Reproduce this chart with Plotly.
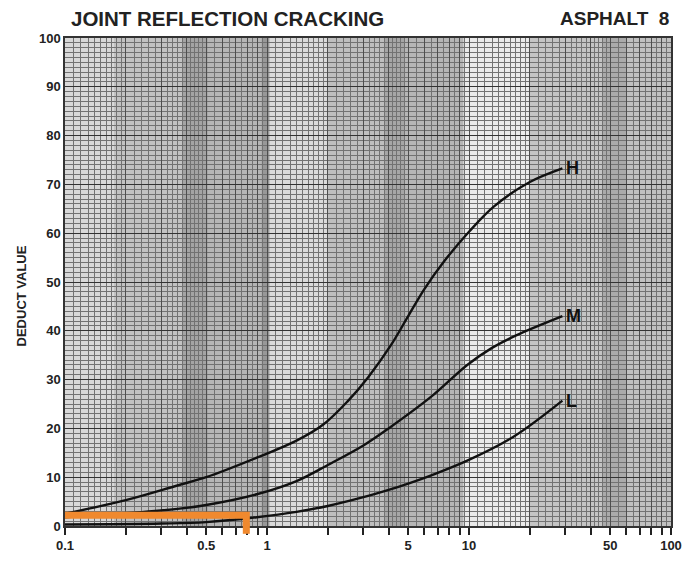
import math
import plotly.graph_objects as go

# ---- data ----
h_x = [0.1, 0.2, 0.36, 0.5, 0.89, 1.4, 1.9, 2.5, 3.17, 4.1, 5, 6, 7.55, 10, 13.3, 20, 29]
h_y = [2.5, 5.3, 8.3, 10, 14, 17.5, 20.8, 25.5, 30.5, 37, 43, 48.5, 54.3, 60.3, 65.5, 70.5, 73.3]

m_x = [0.1, 0.2, 0.36, 0.5, 0.89, 1.4, 2, 3, 4, 6.5, 9.8, 13, 17, 29]
m_y = [1.8, 2.6, 3.5, 4.3, 6.5, 9.2, 12.5, 16.5, 20, 26.5, 33, 36.5, 39, 43]

l_x = [0.1, 0.3, 0.5, 0.89, 1.4, 2, 3, 4, 5, 6.7, 9.8, 16.6, 29]
l_y = [0.3, 0.5, 0.8, 1.8, 2.9, 4.1, 5.9, 7.4, 8.7, 10.6, 13.4, 18.3, 25.7]

orange_x = [0.1, 0.79, 0.79]
orange_y = [2.2, 2.2, 0]

curve_names = ["H", "M", "L"]

x_tickvals = [0.1, 0.2, 0.3, 0.4, 0.5, 0.6, 0.7, 0.8, 0.9,
              1, 2, 3, 4, 5, 6, 7, 8, 9,
              10, 20, 30, 40, 50, 60, 70, 80, 90, 100]
x_labels = {0.1: "0.1", 0.5: "0.5", 1: "1", 5: "5", 10: "10", 50: "50", 100: "100"}
y_tickvals = [0, 10, 20, 30, 40, 50, 60, 70, 80, 90, 100]

# ---- styling helpers ----
minor_x = []
for base in [0.1, 1, 10]:
    for i in range(10, 20):
        minor_x.append(round(base * i / 10, 4))
    for i in range(20, 50, 2):
        minor_x.append(round(base * i / 10, 4))
    for i in range(50, 100, 5):
        minor_x.append(round(base * i / 10, 4))

# scan shading bands (x0, x1, colour)
bands = [
    (0.1, 0.175, "#d8d8d8"),
    (0.175, 0.38, "#c2c2c2"),
    (0.38, 0.51, "#a4a4a4"),
    (0.51, 0.94, "#b6b6b6"),
    (0.94, 1.03, "#989898"),
    (1.03, 2.0, "#dadada"),
    (2.0, 3.8, "#bebebe"),
    (3.8, 4.8, "#a6a6a6"),
    (4.8, 9.4, "#b6b6b6"),
    (9.4, 20, "#eaeaea"),
    (20, 46, "#c4c4c4"),
    (46, 60, "#aaaaaa"),
    (60, 100, "#c0c0c0"),
]

FONT = "Liberation Sans"
fig = go.Figure()

for x0, x1, c in bands:
    fig.add_shape(type="rect", xref="x", yref="paper", x0=x0, x1=x1, y0=0, y1=1,
                  fillcolor=c, line_width=0, layer="below")

for name, xs, ys in zip(curve_names, [h_x, m_x, l_x], [h_y, m_y, l_y]):
    fig.add_trace(go.Scatter(x=xs, y=ys, mode="lines", name=name,
                             line=dict(color="#111111", width=2.4, shape="spline", smoothing=1.0),
                             showlegend=False, hoverinfo="skip"))
    fig.add_annotation(x=math.log10(xs[-1]), y=ys[-1], xref="x", yref="y",
                       text="<b>%s</b>" % name,
                       showarrow=False, xanchor="left", xshift=2,
                       font=dict(family=FONT, size=18, color="#111111"))

fig.add_trace(go.Scatter(x=orange_x, y=orange_y, mode="lines",
                         line=dict(color="#f0892e", width=7),
                         showlegend=False, hoverinfo="skip"))
# small overshoot of the orange marker below the axis
fig.add_shape(type="line", xref="x", yref="paper",
              x0=orange_x[-1], x1=orange_x[-1], y0=0.005, y1=-0.016,
              line=dict(color="#f0892e", width=7), layer="above")

fig.update_xaxes(type="log", range=[-1, 2],
                 tickvals=x_tickvals,
                 ticktext=[x_labels.get(v, "") for v in x_tickvals],
                 ticks="outside", ticklen=7, tickwidth=1.5, tickcolor="#222",
                 showgrid=True, gridcolor="#4e4e4e", gridwidth=1.1,
                 minor=dict(tickvals=minor_x, showgrid=True, gridcolor="#727272",
                            gridwidth=1, ticks=""),
                 showline=True, linecolor="#333", linewidth=1.5, mirror=True,
                 tickfont=dict(family=FONT, size=13, color="#222", weight="bold"),
                 zeroline=False)

fig.update_yaxes(range=[0, 100], tickvals=y_tickvals,
                 ticks="", showgrid=True, gridcolor="#333333", gridwidth=1.3,
                 minor=dict(dtick=1, showgrid=True, gridcolor="#727272", gridwidth=1),
                 showline=True, linecolor="#333", linewidth=1.5, mirror=True,
                 tickfont=dict(family=FONT, size=13, color="#222", weight="bold"),
                 zeroline=False)

fig.add_annotation(xref="paper", yref="paper", x=-0.087, y=0.472,
                   text="<b>DEDUCT VALUE</b>", textangle=-90, showarrow=False,
                   font=dict(family=FONT, size=13, color="#222"))
fig.add_annotation(xref="paper", yref="paper", x=0.007, y=1.04, xanchor="left", yanchor="middle",
                   text="<b>JOINT REFLECTION CRACKING</b>", showarrow=False,
                   font=dict(family=FONT, size=20.5, color="#222"))
fig.add_annotation(xref="paper", yref="paper", x=1.0, y=1.04, xanchor="right", yanchor="middle",
                   text="<b>ASPHALT  8</b>", showarrow=False,
                   font=dict(family=FONT, size=19, color="#222"))

fig.update_layout(width=686, height=557,
                  margin=dict(l=57, r=14, t=30, b=36),
                  plot_bgcolor="#cccccc", paper_bgcolor="white",
                  showlegend=False)

fig.write_html("out.html")
